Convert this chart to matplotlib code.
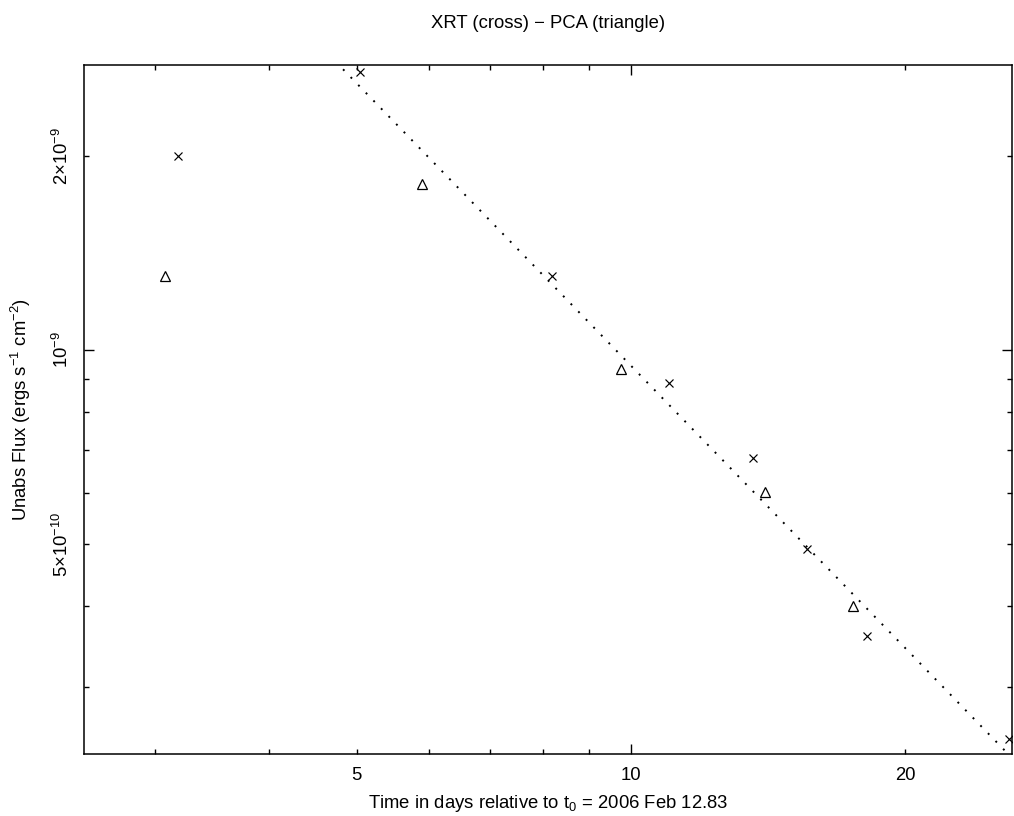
import numpy as np
import matplotlib
matplotlib.use("Agg")
import matplotlib.pyplot as plt

# ---- data ----
xrt_t = [3.18, 5.04, 8.18, 11.0, 13.6, 15.62, 18.18, 25.98]
xrt_flux = [2.00e-9, 2.70e-9, 1.30e-9, 8.89e-10, 6.79e-10, 4.91e-10, 3.60e-10, 2.49e-10]

pca_t = [3.08, 5.90, 9.76, 14.03, 17.52]
pca_flux = [1.30e-9, 1.81e-9, 9.33e-10, 6.02e-10, 4.01e-10]

# power-law decay fit: F = fit_norm * t ** fit_index
fit_index = -1.455
fit_norm = 2.694e-8
fit_t = [2.5, 27.0]

x_limits = [2.508, 26.2]
y_limits = [2.36e-10, 2.768e-9]

x_minor_ticks = [3, 4, 5, 6, 7, 8, 9, 20]
x_minor_labels = ['', '', '5', '', '', '', '', '20']
x_major_ticks = [10]
x_major_labels = ['10']

y_minor_ticks = [3e-10, 4e-10, 5e-10, 6e-10, 7e-10, 8e-10, 9e-10, 2e-9]
y_minor_labels = ['', '', r'$5{\times}10^{-10}$', '', '', '', '', r'$2{\times}10^{-9}$']
y_major_ticks = [1e-9]
y_major_labels = [r'$10^{-9}$']

title = u"XRT (cross) \u2212 PCA (triangle)"
xlabel = r"Time in days relative to t$_0$ = 2006 Feb 12.83"
ylabel = r"Unabs Flux (ergs s$^{-1}$ cm$^{-2}$)"

# ---- style ----
plt.rcParams['font.family'] = ['Liberation Sans', 'DejaVu Sans']
plt.rcParams['mathtext.fontset'] = 'custom'
plt.rcParams['mathtext.rm'] = 'Liberation Sans'
plt.rcParams['mathtext.it'] = 'Liberation Sans:italic'
plt.rcParams['mathtext.bf'] = 'Liberation Sans:bold'
plt.rcParams['font.size'] = 13.3

fig = plt.figure(figsize=(10.14, 8.16), dpi=100)
W, H = 1014, 816
ax = fig.add_axes([84 / W, (H - 754) / H, (1012 - 84) / W, (754 - 65) / H])

ax.set_xscale('log')
ax.set_yscale('log')

fit_flux = [fit_norm * t ** fit_index for t in fit_t]
ax.plot(fit_t, fit_flux, color='black', lw=1.4, linestyle=(0, (1, 4.6)))
ax.plot(xrt_t, xrt_flux, linestyle='none', marker='x', ms=6.3, mew=0.85, color='black')
ax.plot(pca_t, pca_flux, linestyle='none', marker='^', ms=7.5, mew=0.9,
        markerfacecolor='none', markeredgecolor='black')

ax.set_xlim(x_limits)
ax.set_ylim(y_limits)

ax.set_xticks(x_major_ticks)
ax.set_xticklabels(x_major_labels)
ax.set_xticks(x_minor_ticks, minor=True)
ax.set_xticklabels(x_minor_labels, minor=True)
ax.set_yticks(y_major_ticks)
ax.set_yticklabels(y_major_labels)
ax.set_yticks(y_minor_ticks, minor=True)
ax.set_yticklabels(y_minor_labels, minor=True)

ax.tick_params(which='both', direction='in', top=True, right=True, width=1.0, colors='black')
ax.tick_params(which='major', length=7)
ax.tick_params(which='minor', length=3.5)
ax.tick_params(axis='x', which='both', pad=9)
ax.tick_params(axis='y', which='both', pad=9, labelrotation=90)
for lab in ax.get_yticklabels(which='both'):
    lab.set_va('center')

for s in ax.spines.values():
    s.set_linewidth(1.1)

ax.set_title(title, pad=27, fontsize=13.3)
ax.set_xlabel(xlabel, labelpad=7)
ax.set_ylabel(ylabel, labelpad=13)

fig.savefig('out.png', dpi=100, facecolor='white')
